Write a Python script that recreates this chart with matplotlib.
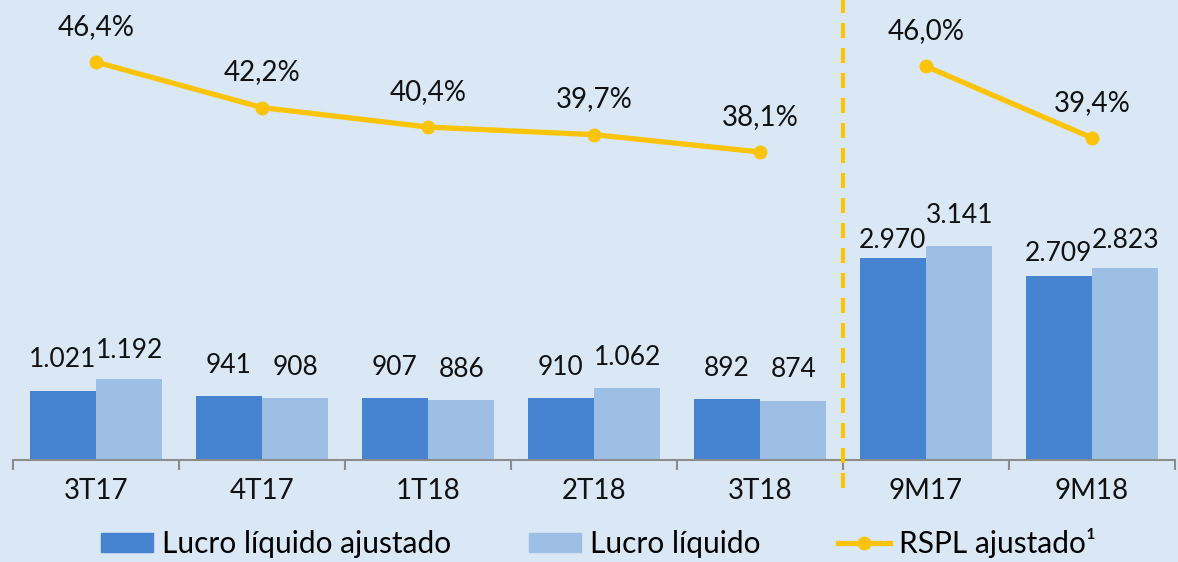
import matplotlib
matplotlib.use("Agg")
import matplotlib.pyplot as plt
import numpy as np
from matplotlib.patches import Patch
from matplotlib.lines import Line2D

categories = ["3T17", "4T17", "1T18", "2T18", "3T18", "9M17", "9M18"]
lucro_ajustado = [1021, 941, 907, 910, 892, 2970, 2709]
lucro_liquido = [1192, 908, 886, 1062, 874, 3141, 2823]
rspl_q = [46.4, 42.2, 40.4, 39.7, 38.1]
rspl_9m = [46.0, 39.4]

def fmt_int(v):
    return f"{v:,}".replace(",", ".")

def fmt_pct(v):
    return f"{v:.1f}%".replace(".", ",")

BG = "#DAE7F5"
DARK = "#4683D1"
LIGHT = "#9DBFE6"
GOLD = "#FBC40A"
FONT = "Lato"
FS = 20
FS_VAL = 19

W, H = 1178, 562
fig = plt.figure(figsize=(W / 100, H / 100), dpi=100, facecolor=BG)
left, right, base_y = 13, 1175, 460
ax = fig.add_axes([left / W, (H - base_y) / H, (right - left) / W, base_y / H])
ax.set_facecolor(BG)
ax2 = ax.twinx()

x = np.arange(len(categories))
bw = 0.4
ax.bar(x - bw / 2, lucro_ajustado, bw, color=DARK, zorder=2)
ax.bar(x + bw / 2, lucro_liquido, bw, color=LIGHT, zorder=2)
ax.set_xlim(-0.5, len(categories) - 0.5)
ax.set_ylim(0, base_y * 14.7)

# label gap above bar (points); the 9M dark labels sit lower to stay clear of neighbours
gap_dark = [13, 13, 13, 13, 13, 3.5, 7]
gap_light = [11.5, 13, 13, 13, 13, 13, 11]
for xi, v, g in zip(x - bw / 2, lucro_ajustado, gap_dark):
    ax.annotate(fmt_int(v), (xi, v), xytext=(0, g), textcoords="offset points",
                ha="center", va="bottom", fontsize=FS_VAL, family=FONT, color="#111111")
for xi, v, g in zip(x + bw / 2, lucro_liquido, gap_light):
    ax.annotate(fmt_int(v), (xi, v), xytext=(0, g), textcoords="offset points",
                ha="center", va="bottom", fontsize=FS_VAL, family=FONT, color="#111111")

# secondary scale: px_from_top = a0 - k*v
k, a0 = 10.84, 565
ax2.set_ylim((a0 - base_y) / k, a0 / k)
xq = x[:len(rspl_q)]
x9 = x[len(rspl_q):]
ax2.plot(xq, rspl_q, color=GOLD, lw=3.8, marker="o", ms=9, zorder=3)
ax2.plot(x9, rspl_9m, color=GOLD, lw=3.8, marker="o", ms=9, zorder=3)
for xi, v in list(zip(xq, rspl_q)) + list(zip(x9, rspl_9m)):
    ax2.annotate(fmt_pct(v), (xi, v), xytext=(0, 16), textcoords="offset points",
                 ha="center", va="bottom", fontsize=FS, family=FONT, color="#111111")

# dashed separator
ax.axvline(4.5, ymin=-28 / base_y, ymax=1, color=GOLD, lw=3, dashes=(3.6, 2.4),
           clip_on=False, zorder=4)

for sp in ["top", "right", "left"]:
    ax.spines[sp].set_visible(False)
    ax2.spines[sp].set_visible(False)
ax2.spines["bottom"].set_visible(False)
ax.spines["bottom"].set_color("#8C8C8C")
ax.spines["bottom"].set_linewidth(1.5)
ax.set_yticks([])
ax2.set_yticks([])
ax.set_xticks(x)
ax.set_xticklabels(categories, fontsize=FS, family=FONT, color="#111111")
ax.tick_params(axis="x", which="major", length=0, pad=13)
ax.set_xticks(np.arange(-0.5, len(categories)), minor=True)
ax.tick_params(axis="x", which="minor", length=7, width=1.5, color="#8C8C8C")

handles = [Patch(color=DARK), Patch(color=LIGHT),
           Line2D([0], [0], color=GOLD, lw=3.8, marker="o", ms=9)]
labels = ["Lucro líquido ajustado", "Lucro líquido", "RSPL ajustado¹"]
fig.legend(handles, labels, loc="center", bbox_to_anchor=(0.508, (H - 543) / H),
           ncol=3, frameon=False, prop={"family": FONT, "size": 21.5},
           handlelength=1.75, handleheight=0.65, handletextpad=0.3, columnspacing=2.6)

fig.savefig("out.png", dpi=100, facecolor=BG)
